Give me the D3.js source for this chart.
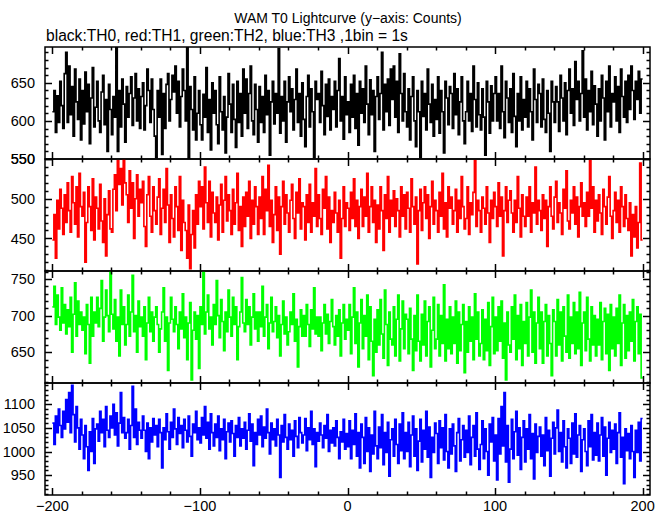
<!DOCTYPE html>
<html><head><meta charset="utf-8">
<script src="https://cdn.jsdelivr.net/npm/d3@7"></script>
<style>
html,body{margin:0;padding:0;background:#fff;}
svg{display:block;}
text{font-family:"Liberation Sans",Arial,Helvetica,sans-serif;fill:#000;}
</style></head>
<body><svg id="chart" width="669" height="515"></svg>
<script>
const titleText = "WAM T0 Lightcurve (y\u2212axis: Counts)";
const subtitleText = "black:TH0, red:TH1, green:TH2, blue:TH3 ,1bin = 1s";
const timeStart = -200;   // first bin start (s), 1 bin = 1 s
const xTickValues = [-200, -100, 0, 100, 200];
const seriesNames = ["TH0", "TH1", "TH2", "TH3"];
const seriesColors = ["#000000", "#ff0000", "#00ff00", "#0000ff"];
const yDomains = [[550, 697], [409, 550], [608, 761], [908, 1145]];
const yTickValues = [[550, 600, 650], [450, 500, 550], [650, 700, 750], [950, 1000, 1050, 1100]];

const th0 = [
612,640,585,633,598,652,620,590,662,690, 598,672,608,645,580,668,625,602,655,575,
640,596,664,612,648,570,630,670,592,618, 652,600,585,638,660,595,628,560,648,615,
582,632,605,697,560,640,592,655,622,572, 645,605,636,658,594,630,662,600,642,590,
632,650,588,620,668,640,598,655,615,580, 552,640,605,655,556,636,590,648,662,600,
628,660,638,672,610,652,592,632,668,640, 600,697,550,645,615,588,658,575,610,640,
595,575,635,605,670,585,628,562,650,610, 640,595,570,658,612,588,632,558,605,662,
622,585,648,602,565,652,598,636,580,668, 610,655,590,636,672,600,582,648,615,572,
645,598,632,585,660,608,640,555,625,652, 596,636,610,695,584,632,600,652,572,625,
658,612,642,588,628,668,598,636,580,650, 602,566,632,660,592,642,612,552,652,628,
636,598,665,620,582,648,606,655,588,632, 615,652,592,640,682,600,632,576,658,608,
625,585,648,605,660,590,636,568,652,610, 642,598,672,622,582,654,608,640,560,632,
658,602,636,690,588,648,612,655,594,668, 628,672,605,652,585,688,636,600,662,612,
592,642,575,632,658,600,566,640,612,552, 652,606,636,588,668,622,598,648,580,628,
602,658,584,640,612,558,652,630,595,645, 636,590,662,608,642,582,625,658,600,570,
612,652,600,636,586,672,628,592,650,608, 588,642,605,555,652,625,584,646,600,636,
658,600,636,590,672,612,578,652,630,598, 642,585,662,606,566,636,600,658,588,628,
605,652,592,642,612,575,668,628,598,648, 636,592,655,602,585,640,610,560,652,625,
598,645,625,586,660,630,600,650,582,640, 668,610,642,594,678,628,652,600,636,692,
605,655,588,640,612,665,595,646,622,580, 642,600,660,630,575,652,612,672,592,636,
625,658,600,645,585,668,632,605,652,598, 660,615,672,640,602,652,628,665,610,655
];
const th1 = [
448,480,425,498,462,512,488,455,505,470, 520,485,458,528,495,468,515,452,532,490,
478,508,420,470,515,490,460,525,448,502, 488,462,518,472,445,500,428,480,510,462,
458,512,530,485,548,518,538,492,550,520, 505,470,535,488,520,450,500,530,478,512,
495,522,465,440,505,528,478,458,515,485, 468,502,525,455,488,512,470,538,492,445,
505,475,452,515,490,460,528,435,498,470, 460,425,492,412,455,485,438,505,468,522,
490,515,462,540,495,470,522,452,508,482, 470,502,448,492,518,458,498,528,472,505,
485,455,512,468,495,532,460,490,440,502, 465,508,478,522,450,498,468,515,490,455,
502,475,528,455,512,485,542,465,498,445, 480,515,460,502,430,490,522,468,505,482,
458,498,518,475,450,508,482,525,462,495, 490,448,505,470,518,458,495,478,538,465,
505,475,455,512,488,528,462,502,445,485, 470,508,482,458,498,425,475,515,465,495,
488,460,508,475,525,465,498,450,490,512, 465,502,478,532,458,490,515,470,498,445,
492,462,515,485,435,505,475,528,458,498, 478,510,465,500,485,452,515,478,505,462,
508,488,458,525,490,468,502,418,485,512, 460,495,515,475,505,450,490,522,468,498,
485,458,508,478,532,462,495,452,515,488, 502,468,485,512,458,498,475,528,490,462,
475,515,455,495,480,508,548,465,498,485, 458,502,488,468,515,482,445,498,475,508,
490,465,520,478,502,428,485,515,470,498, 510,482,458,498,470,528,488,452,505,478,
465,502,478,515,458,495,482,540,468,498, 485,460,505,475,498,440,490,515,478,462,
502,522,470,495,482,455,512,488,535,472, 462,498,482,515,468,502,452,490,520,478,
495,465,508,478,548,488,515,458,498,472, 505,482,455,512,490,468,502,528,478,450,
485,508,470,498,458,515,490,465,505,475, 460,495,428,480,452,490,438,470,545,448
];
const th2 = [
712,740,688,728,698,680,738,690,715,675, 708,685,725,650,702,745,672,720,688,705,
680,698,648,715,688,635,725,672,705,690, 725,685,710,748,665,698,735,700,678,760,
702,682,722,665,698,645,735,688,712,660, 688,728,672,705,755,678,700,650,720,685,
698,672,712,640,690,725,678,705,665,698, 712,688,650,682,705,738,665,698,625,690,
725,695,678,712,688,655,705,682,730,670, 698,640,690,718,612,680,705,668,700,628,
712,688,760,675,705,728,682,698,660,715, 688,748,700,670,722,692,652,705,678,735,
698,672,725,688,712,640,685,705,752,690, 678,722,688,712,660,698,730,682,705,665,
705,685,740,672,698,715,655,690,725,678, 692,712,670,700,645,688,720,675,698,660,
678,705,688,730,665,695,630,685,708,672, 700,672,715,688,658,708,682,738,675,698,
672,698,652,690,715,675,702,662,692,722, 685,660,700,672,708,645,690,715,668,695,
680,715,648,698,738,662,705,630,690,722, 655,700,672,728,640,712,665,618,695,650,
708,660,722,675,642,735,688,632,705,668, 660,712,645,695,728,638,682,720,655,702,
695,648,710,668,625,700,652,728,665,638, 702,660,720,645,692,712,630,680,725,655,
668,715,645,700,662,742,638,695,655,712, 648,698,662,720,635,705,652,688,715,622,
692,650,712,665,698,640,730,668,705,645, 662,708,640,695,652,718,632,685,725,648,
698,652,712,665,720,642,690,612,705,660, 650,712,668,728,640,700,655,715,632,692,
662,718,645,698,735,650,705,635,690,725, 655,705,635,692,715,645,700,662,618,708,
692,645,722,660,705,638,712,672,650,728, 642,698,662,718,648,705,655,732,632,690,
705,652,725,668,638,712,660,700,645,695, 660,718,640,692,710,648,702,625,715,655,
698,645,710,662,728,632,690,715,642,700, 652,705,665,722,638,692,712,648,702,615
];
const th3 = [
1060,1015,1075,1040,1090,1055,1030,1085,1048,1110, 1062,1125,1040,1140,1078,1020,1095,1050,1005,1068,
1035,985,1055,1010,960,1042,1000,1070,975,1048, 1058,1022,1085,1040,1068,1010,1095,1045,1030,1075,
1050,1100,1035,1082,1012,1060,1125,1040,1072,1028, 1040,1068,1005,1055,1138,1030,1090,1015,1062,1045,
1028,1075,1045,1000,1060,985,1050,1020,1070,1035, 1055,1010,1068,1040,965,1050,1025,1080,1042,1005,
1062,1030,1090,1048,1015,1072,1038,1055,1008,1068, 1045,1020,1075,1032,990,1058,1040,1085,1025,1050,
1018,1072,1035,1095,1028,1062,1005,1080,1040,1012, 1058,1030,1075,1002,1048,1025,1068,985,1042,1060,
1020,1065,1038,990,1055,1030,1072,1012,1048,1028, 1062,1005,1045,1080,1022,1058,970,1040,1015,1068,
1035,1075,1010,1052,1028,1090,1040,995,1060,1025, 1048,1012,1068,1035,945,1055,1020,1078,1030,1005,
1058,1025,1045,990,1065,1032,1008,1072,1040,1018, 1035,1070,1002,1050,1025,1085,1015,1048,968,1040,
1022,1060,1035,1008,1055,1028,1078,1000,1045,1018, 1050,1012,1065,1030,985,1042,1020,1068,1005,1038,
1010,1065,985,1045,1015,1080,990,1040,965,1058, 1030,975,1072,1000,1050,958,1035,995,1085,1012,
985,1052,1008,1078,972,1040,998,1062,948,1025, 1048,990,1068,1015,975,1058,1002,1082,985,1040,
1000,1062,968,1035,1075,990,1048,960,1022,1068, 978,1045,1005,1085,988,1052,945,1030,998,1060,
1038,975,1065,1008,1050,982,1078,1000,965,1048, 995,1058,1012,958,1040,1070,980,1025,1055,988,
1045,998,1075,972,1030,1055,990,1082,1005,962, 1015,1065,985,1048,1000,950,1058,1020,1072,980,
1035,940,1070,995,1095,1012,1125,978,1055,935, 1005,1068,985,1042,1085,992,1050,962,1030,1065,
978,1048,1005,1078,985,1038,942,1058,998,1032, 1052,990,1035,970,1072,1002,1045,948,1028,1062,
995,1050,1088,1000,1040,978,1065,1010,965,1048, 1028,975,1060,995,1080,988,1035,1055,958,1025,
1048,1000,970,1065,1010,1078,982,1040,992,1060, 980,1035,1072,990,1052,950,1028,1062,998,1045,
1005,1058,975,1040,1082,988,1030,932,1048,1002, 1038,985,1055,1000,945,1045,998,1062,980,1070
];
const allSeries = [th0, th1, th2, th3];

const svg = d3.select("#chart");
const padLeft = 45, padRight = 650, plotTop = 47, panelH = 112;
const x = d3.scaleLinear().domain([-205, 205]).range([padLeft, padRight]);

svg.append("text").attr("x", 348).attr("y", 23).attr("text-anchor", "middle")
  .attr("font-size", "14px").text(titleText);
svg.append("text").attr("x", 46).attr("y", 41).attr("text-anchor", "start")
  .attr("font-size", "15.6px").text(subtitleText);

const defs = svg.append("defs");

allSeries.forEach((vals, k) => {
  const y0 = plotTop + k * panelH, y1 = y0 + panelH;
  const y = d3.scaleLinear().domain(yDomains[k]).range([y1, y0]);
  const g = svg.append("g");
  defs.append("clipPath").attr("id", "clip" + k).append("rect")
    .attr("x", padLeft).attr("y", y0).attr("width", padRight - padLeft).attr("height", panelH);

  const pts = vals.map((v, i) => [timeStart + i, v]);
  pts.push([timeStart + vals.length, vals[vals.length - 1]]);
  const line = d3.line().x(d => x(d[0])).y(d => y(d[1])).curve(d3.curveStepAfter);
  g.append("path").attr("clip-path", `url(#clip${k})`).attr("d", line(pts))
    .attr("fill", "none").attr("stroke", seriesColors[k]).attr("stroke-width", 1.6);

  const [dmin, dmax] = yDomains[k];
  const minorY = d3.range(Math.ceil(dmin / 10) * 10, dmax + 0.001, 10);
  minorY.forEach(v => {
    const major = v % 50 === 0;
    const len = major ? 7 : 3.5;
    const yy = Math.round(y(v)) + 0.5;
    g.append("line").attr("x1", padLeft).attr("x2", padLeft + len).attr("y1", yy).attr("y2", yy)
      .attr("stroke", "#000").attr("stroke-width", 1.5);
    g.append("line").attr("x1", padRight).attr("x2", padRight - len).attr("y1", yy).attr("y2", yy)
      .attr("stroke", "#000").attr("stroke-width", 1.5);
  });
  yTickValues[k].forEach(v => {
    g.append("text").attr("x", 35).attr("y", y(v)).attr("dy", "0.36em")
      .attr("text-anchor", "end").attr("font-size", "14.5px").text(v);
  });

  d3.range(-200, 201, 20).forEach(t => {
    const major = t % 100 === 0;
    const len = major ? 7 : 3.5;
    const xx = Math.round(x(t)) + 0.5;
    g.append("line").attr("x1", xx).attr("x2", xx).attr("y1", y1).attr("y2", y1 - len)
      .attr("stroke", "#000").attr("stroke-width", 1.5);
    g.append("line").attr("x1", xx).attr("x2", xx).attr("y1", y0).attr("y2", y0 + len)
      .attr("stroke", "#000").attr("stroke-width", 1.5);
  });

  g.append("rect").attr("x", padLeft).attr("y", y0).attr("width", padRight - padLeft).attr("height", panelH)
    .attr("fill", "none").attr("stroke", "#000").attr("stroke-width", 1.5);
});

const plotBottom = plotTop + 4 * panelH;
xTickValues.forEach(t => {
  svg.append("text").attr("x", x(t)).attr("y", plotBottom + 16).attr("text-anchor", "middle")
    .attr("font-size", "14.5px").text(t < 0 ? "\u2212" + Math.abs(t) : String(t));
});
</script></body></html>
